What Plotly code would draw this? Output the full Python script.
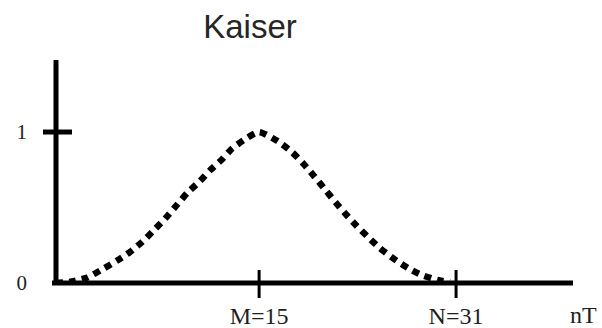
import plotly.graph_objects as go

# Kaiser window profile, sample index n versus window amplitude
n_pos = [-1.5, -0.2, 1.0, 2.25, 3.5, 4.5, 5.5, 6.4, 7.4, 8.3, 9.2, 10.2, 11.0, 12.0, 12.8, 14.0, 15.0,
         16.5, 17.7, 18.6, 19.5, 20.4, 21.2, 22.0, 22.9, 23.9, 24.8, 25.9, 27.1, 28.2, 29.5, 30.5]
amplitude = [0.0, 0.01, 0.035, 0.09, 0.15, 0.205, 0.272, 0.345, 0.43, 0.515, 0.6, 0.675, 0.745, 0.82, 0.89, 0.96, 1.0,
             0.94, 0.865, 0.79, 0.705, 0.615, 0.535, 0.46, 0.38, 0.30, 0.232, 0.163, 0.099, 0.053, 0.02, 0.005]

x_tick_vals = [15, 31]
x_tick_text = ["M=15", "N=31"]
y_tick_vals = [0, 1]
y_tick_text = ["0", "1"]

W, H = 602, 328
ML, MR, MT, MB = 56, 29, 60, 45
PW, PH = W - ML - MR, H - MT - MB

SERIF = "Liberation Serif, Times New Roman, serif"
SANS = "Liberation Sans, Arial, sans-serif"
INK = "#1e1e1e"

fig = go.Figure()
fig.add_trace(go.Scatter(
    x=n_pos, y=amplitude, mode="lines",
    line=dict(color="black", width=6.5, dash="7px,6px", shape="spline", smoothing=0.6),
    hoverinfo="skip", showlegend=False,
))

shapes = []
# axis lines
shapes.append(dict(type="line", xref="paper", yref="paper", x0=-4 / PW, x1=1, y0=0, y1=0,
                   line=dict(color="black", width=5)))
shapes.append(dict(type="line", xref="paper", yref="paper", x0=0, x1=0, y0=0, y1=1,
                   line=dict(color="black", width=5)))
# tick marks crossing the horizontal axis
for v in x_tick_vals:
    shapes.append(dict(type="line", xref="x", yref="paper", x0=v, x1=v, y0=-15 / PH, y1=13 / PH,
                       line=dict(color="black", width=3)))
# tick mark crossing the vertical axis at amplitude 1
shapes.append(dict(type="line", xref="paper", yref="y", x0=-13 / PW, x1=16 / PW, y0=1, y1=1,
                   line=dict(color="black", width=5)))

fig.update_layout(
    width=W, height=H,
    margin=dict(l=ML, r=MR, t=MT, b=MB, pad=0, autoexpand=False),
    paper_bgcolor="white", plot_bgcolor="white",
    shapes=shapes,
    title=dict(text="Kaiser", x=(250 - ML) / PW, xref="paper", xanchor="center",
               y=1 - 26 / H, yref="container", yanchor="middle",
               font=dict(family=SANS, size=33, color="#262626")),
    xaxis=dict(range=[-1.5, 40.5], showline=False, showgrid=False, zeroline=False, automargin=False,
               tickmode="array", tickvals=x_tick_vals, ticktext=x_tick_text, ticks="",
               ticklabelstandoff=16, tickfont=dict(family=SERIF, size=24, color=INK)),
    yaxis=dict(range=[0, 1.477], showline=False, showgrid=False, zeroline=False, automargin=False,
               tickmode="array", tickvals=y_tick_vals, ticktext=y_tick_text, ticks="",
               ticklabelstandoff=28, tickfont=dict(family=SERIF, size=21, color=INK)),
    annotations=[dict(text="nT", xref="paper", yref="paper", x=(583 - ML) / PW, y=-(315 - 283) / PH,
                      xanchor="center", yanchor="middle", showarrow=False,
                      font=dict(family=SERIF, size=24, color=INK))],
)

fig.write_html("out.html")
